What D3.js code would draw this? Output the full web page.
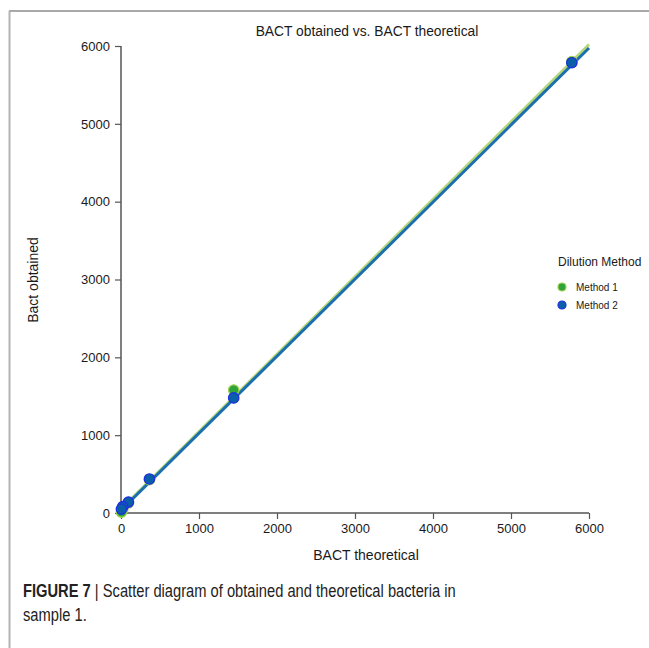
<!DOCTYPE html>
<html>
<head>
<meta charset="utf-8">
<script src="https://cdn.jsdelivr.net/npm/d3@7"></script>
<style>
  html, body { margin: 0; padding: 0; background: #fff; }
  svg { display: block; }
  text { font-family: "Liberation Sans", Arial, sans-serif; fill: #1a1a1a; }
</style>
</head>
<body>
<svg id="chart" width="649" height="648"></svg>
<script>
// Theoretical bacteria counts (four-fold dilution series) and the counts obtained
const theoretical = [5780, 1445, 365, 95, 22.5, 5.6];
const obtainedMethod1 = [5800, 1580, 430, 130, 45, 12];
const obtainedMethod2 = [5785, 1478, 437, 141, 81, 51];

// Fitted line per method: intercept and slope
const fitIntercept = [50, 35];
const fitSlope = [0.995, 0.99];

const methods = ["Method 1", "Method 2"];
const xTicks = [0, 1000, 2000, 3000, 4000, 5000, 6000];
const yTicks = [0, 1000, 2000, 3000, 4000, 5000, 6000];

const lineColors = ["#b5d77a", "#1b6fae"];
const pointFill = ["#2ea43a", "#0b5fa8"];
const pointStroke = ["#9ccf50", "#1f2fe0"];

const svg = d3.select("#chart");

// Page frame
svg.append("line").attr("x1", 9).attr("x2", 649).attr("y1", 11).attr("y2", 11)
  .attr("stroke", "#8c8c8c").attr("stroke-width", 1.5);
svg.append("line").attr("x1", 9.5).attr("x2", 9.5).attr("y1", 11).attr("y2", 648)
  .attr("stroke", "#b3b3b3").attr("stroke-width", 2);

const x = d3.scaleLinear().domain([0, 6000]).range([121, 589]);
const y = d3.scaleLinear().domain([0, 6000]).range([513, 46]);

// Axes
const xAxis = svg.append("g").attr("transform", "translate(0,513)")
  .call(d3.axisBottom(x).tickValues(xTicks).tickSize(6).tickPadding(5).tickFormat(d3.format("d")));
const yAxis = svg.append("g").attr("transform", "translate(121,0)")
  .call(d3.axisLeft(y).tickValues(yTicks).tickSize(6).tickPadding(5).tickFormat(d3.format("d")));
[xAxis, yAxis].forEach(a => {
  a.select(".domain").attr("stroke", "#555").attr("stroke-width", 1.5);
  a.selectAll(".tick line").attr("stroke", "#555").attr("stroke-width", 1.2);
  a.selectAll(".tick text").attr("font-size", 13).attr("fill", "#1a1a1a")
    .attr("font-family", "Liberation Sans, Arial, sans-serif");
});
xAxis.select(".domain").attr("d", "M121,0H589");
yAxis.select(".domain").attr("d", "M0,46V513");

// Fitted lines
methods.forEach((m, i) => {
  const x0 = 0, x1 = 6000;
  svg.append("line")
    .attr("x1", x(x0)).attr("y1", y(fitIntercept[i] + fitSlope[i] * x0))
    .attr("x2", x(x1)).attr("y2", y(fitIntercept[i] + fitSlope[i] * x1))
    .attr("stroke", lineColors[i]).attr("stroke-width", 3);
});

// Points
const series = [obtainedMethod1, obtainedMethod2];
series.forEach((vals, i) => {
  svg.append("g").selectAll("circle")
    .data(theoretical.map((t, k) => [t, vals[k]]))
    .join("circle")
    .attr("cx", d => x(d[0])).attr("cy", d => y(d[1]))
    .attr("r", 5.2)
    .attr("fill", pointFill[i]).attr("stroke", pointStroke[i]).attr("stroke-width", 1.3);
});

// Titles
svg.append("text").attr("x", 367).attr("y", 36).attr("text-anchor", "middle")
  .attr("font-size", 13.8).text("BACT obtained vs. BACT theoretical");
svg.append("text").attr("x", 366).attr("y", 560).attr("text-anchor", "middle")
  .attr("font-size", 14).text("BACT theoretical");
svg.append("text").attr("transform", "translate(38,280) rotate(-90)").attr("text-anchor", "middle")
  .attr("font-size", 14).text("Bact obtained");

// Legend
svg.append("text").attr("x", 558).attr("y", 266).attr("font-size", 12).text("Dilution Method");
methods.forEach((m, i) => {
  const ly = 287 + i * 18;
  svg.append("circle").attr("cx", 562).attr("cy", ly).attr("r", 4)
    .attr("fill", pointFill[i]).attr("stroke", pointStroke[i]).attr("stroke-width", 1.2);
  svg.append("text").attr("x", 576).attr("y", ly + 3.5).attr("font-size", 10).text(m);
});

// Caption, set in a condensed face
const capG = svg.append("g").attr("transform", "translate(23,0) scale(0.84,1)");
const cap = capG.append("text").attr("x", 0).attr("y", 597).attr("font-size", 17.5)
  .attr("font-family", "Roboto, sans-serif").attr("font-weight", 300).style("fill", "#222");
cap.append("tspan").attr("font-weight", 700).text("FIGURE 7");
cap.append("tspan").text(" | Scatter diagram of obtained and theoretical bacteria in");
capG.append("text").attr("x", 0).attr("y", 621).attr("font-size", 17.5)
  .attr("font-family", "Roboto, sans-serif").attr("font-weight", 300).style("fill", "#222")
  .text("sample 1.");
</script>
</body>
</html>
